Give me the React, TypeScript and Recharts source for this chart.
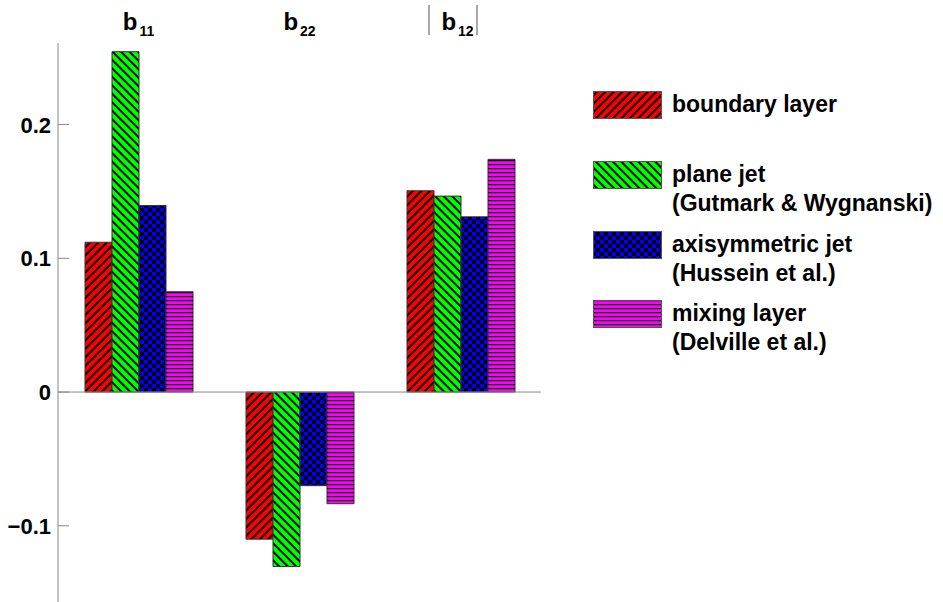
import React from "react";
import { BarChart, Bar, XAxis, YAxis, ReferenceLine } from "recharts";

const categories = ["b11", "b22", "b12"];
const boundaryLayer = [0.112, -0.11, 0.1505];
const planeJet = [0.2545, -0.1305, 0.1465];
const axisymmetricJet = [0.1395, -0.07, 0.131];
const mixingLayer = [0.075, -0.0835, 0.174];
const yTicks = [-0.1, 0, 0.1, 0.2];

const data = categories.map((cat, i) => ({
  cat,
  boundary: boundaryLayer[i],
  plane: planeJet[i],
  axisym: axisymmetricJet[i],
  mixing: mixingLayer[i],
}));

const FONT = "'Liberation Sans', Arial, Helvetica, sans-serif";
const AXIS = "#888";

const legendItems = [
  { fill: "url(#hatchRed)", lines: ["boundary layer"], top: 91 },
  { fill: "url(#hatchGreen)", lines: ["plane jet", "(Gutmark & Wygnanski)"], top: 161 },
  { fill: "url(#hatchBlue)", lines: ["axisymmetric jet", "(Hussein et al.)"], top: 231 },
  { fill: "url(#hatchMagenta)", lines: ["mixing layer", "(Delville et al.)"], top: 300 },
];

function CatTick(props: any) {
  const { x, payload } = props;
  const name: string = payload.value;
  const sub = name.slice(1);
  const isAbs = name === "b12";
  const cx = isAbs ? x - 3 : x;
  return (
    <g>
      <text x={cx} y={30} textAnchor="middle" fontFamily={FONT} fontWeight="bold" fill="#000">
        <tspan fontSize={24}>b</tspan>
        <tspan fontSize={14} dx={2} dy={6}>{sub}</tspan>
      </text>
      {isAbs && (
        <>
          <line x1={x - 31.5} x2={x - 31.5} y1={5} y2={35} stroke="#555" strokeWidth={1} />
          <line x1={x + 16.5} x2={x + 16.5} y1={5} y2={35} stroke="#555" strokeWidth={1} />
        </>
      )}
    </g>
  );
}

function ValTick(props: any) {
  const { y, payload } = props;
  const v: number = payload.value;
  const label = v === 0 ? "0" : v < 0 ? "\u2212" + Math.abs(v).toFixed(1) : v.toFixed(1);
  return (
    <g>
      <text x={51} y={y + 8} textAnchor="end" fontFamily={FONT} fontWeight="bold" fontSize={22} fill="#000">
        {label}
      </text>
      <line x1={58} x2={69} y1={y} y2={y} stroke={AXIS} strokeWidth={1} />
    </g>
  );
}

function Patterns() {
  return (
    <defs>
      <pattern id="hatchRed" width="6" height="6" patternUnits="userSpaceOnUse" patternTransform="rotate(45)">
        <rect width="6" height="6" fill="#ff0000" />
        <line x1="1" y1="0" x2="1" y2="6" stroke="#000" strokeWidth="2" />
      </pattern>
      <pattern id="hatchGreen" width="6" height="6" patternUnits="userSpaceOnUse" patternTransform="rotate(-45)">
        <rect width="6" height="6" fill="#00ff00" />
        <line x1="1" y1="0" x2="1" y2="6" stroke="#000" strokeWidth="2" />
      </pattern>
      <pattern id="hatchBlue" width="8" height="8" patternUnits="userSpaceOnUse">
        <rect width="8" height="8" fill="#000" />
        <circle cx="2" cy="2" r="2.3" fill="#0000ff" />
        <circle cx="6" cy="6" r="2.3" fill="#0000ff" />
      </pattern>
      <pattern id="hatchMagenta" width="4" height="4" patternUnits="userSpaceOnUse">
        <rect width="4" height="4" fill="#ff00ff" />
        <line x1="0" y1="0.6" x2="4" y2="0.6" stroke="#000" strokeWidth="1.2" />
      </pattern>
    </defs>
  );
}

export default function App() {
  return (
    <div style={{ position: "absolute", left: 0, top: 0, width: 943, height: 602, background: "#fff" }}>
      <svg width={0} height={0} style={{ position: "absolute" }}>
        <Patterns />
      </svg>
      <BarChart
        width={943}
        height={602}
        data={data}
        margin={{ top: 0, right: 402, bottom: 0, left: 0 }}
        barCategoryGap={27}
        barGap={0}
      >
        <XAxis
          dataKey="cat"
          orientation="top"
          height={43}
          axisLine={false}
          tickLine={false}
          interval={0}
          tick={<CatTick />}
        />
        <YAxis
          width={58}
          domain={[-0.157, 0.261]}
          ticks={yTicks}
          allowDataOverflow
          axisLine={{ stroke: AXIS }}
          tickLine={false}
          tick={<ValTick />}
        />
        <ReferenceLine y={0} stroke={AXIS} strokeWidth={1} />
        <Bar dataKey="boundary" fill="url(#hatchRed)" stroke="#333" strokeWidth={1} isAnimationActive={false} />
        <Bar dataKey="plane" fill="url(#hatchGreen)" stroke="#333" strokeWidth={1} isAnimationActive={false} />
        <Bar dataKey="axisym" fill="url(#hatchBlue)" stroke="#333" strokeWidth={1} isAnimationActive={false} />
        <Bar dataKey="mixing" fill="url(#hatchMagenta)" stroke="#333" strokeWidth={1} isAnimationActive={false} />
      </BarChart>
      <svg width={943} height={602} style={{ position: "absolute", left: 0, top: 0, pointerEvents: "none" }}>
        {legendItems.map((item) => (
          <g key={item.lines[0]}>
            <rect x={593.5} y={item.top + 0.5} width={68} height={27} fill={item.fill} stroke="#555" strokeWidth={1} />
            {item.lines.map((ln, j) => (
              <text
                key={ln}
                x={672}
                y={item.top + 21 + j * 29}
                fontFamily={FONT}
                fontWeight="bold"
                fontSize={23}
                fill="#000"
              >
                {ln}
              </text>
            ))}
          </g>
        ))}
      </svg>
    </div>
  );
}
